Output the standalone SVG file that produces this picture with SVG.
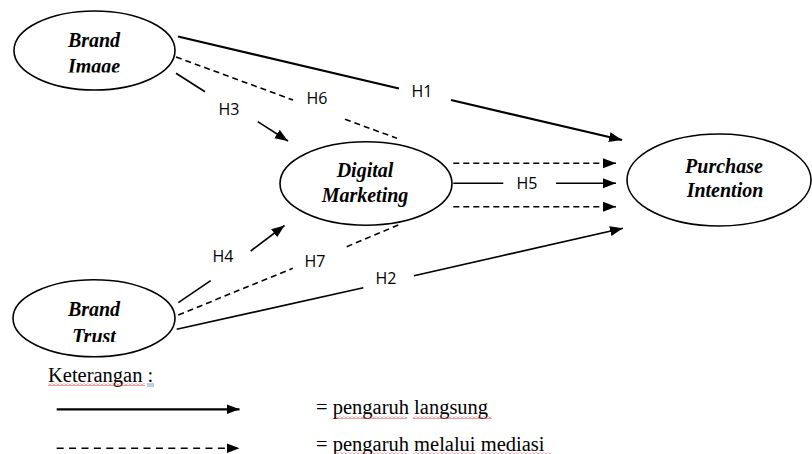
<svg xmlns="http://www.w3.org/2000/svg" width="812" height="454" viewBox="0 0 812 454">
<style>
.node{fill:#fff;stroke:#000;stroke-width:1.6}
.nt{font-family:"Liberation Serif","Times New Roman",serif;font-weight:bold;font-style:italic;font-size:20px;fill:#000;text-anchor:middle}
.lbl{font-family:"Open Sans","Liberation Sans",sans-serif;font-size:16px;fill:#000;text-anchor:middle}
.s{stroke:#000;stroke-width:1.6;fill:none}
.thick{stroke-width:2.2}
.d{stroke:#000;stroke-width:1.6;fill:none;stroke-dasharray:6 4}
.lg{font-family:"Liberation Serif","Times New Roman",serif;font-size:20.5px;fill:#000}
</style>
<defs>
<marker id="ah" markerUnits="userSpaceOnUse" markerWidth="14" markerHeight="11" refX="13" refY="5" orient="auto">
<path d="M0,0 L13,5 L0,10 z" fill="#000"/>
</marker>
<pattern id="wave" patternUnits="userSpaceOnUse" width="4" height="3">
<polyline points="0,2.5 2,0.5 4,2.5" fill="none" stroke="#e53935" stroke-width="1"/>
</pattern>
<clipPath id="clipImg"><rect x="20" y="20" width="150" height="52.5"/></clipPath>
<clipPath id="clipTrust"><rect x="20" y="290" width="150" height="52"/></clipPath>
</defs>

<g id="connectors">
<!-- H1 -->
<line class="s thick" x1="178" y1="36.5" x2="399" y2="88.5"/>
<line class="s thick" x1="451" y1="100" x2="622" y2="140" marker-end="url(#ah)"/>
<text class="lbl" x="422" y="97">H1</text>
<!-- H6 -->
<line class="d" x1="176" y1="57" x2="293" y2="100"/>
<line class="d" x1="345" y1="119.3" x2="397" y2="138.3"/>
<text class="lbl" x="317" y="104">H6</text>
<!-- H3 -->
<line class="s" x1="176" y1="73.3" x2="205" y2="91.7"/>
<line class="s" x1="257.7" y1="121.7" x2="288" y2="141" marker-end="url(#ah)"/>
<text class="lbl" x="229" y="115">H3</text>
<!-- H4 -->
<line class="s" x1="178.3" y1="302.7" x2="210.7" y2="280.7"/>
<line class="s" x1="250.7" y1="251" x2="284.5" y2="225.5" marker-end="url(#ah)"/>
<text class="lbl" x="223" y="262">H4</text>
<!-- H7 -->
<line class="d" x1="178.3" y1="315" x2="292.7" y2="268.3"/>
<line class="d" x1="346.7" y1="246.7" x2="398.3" y2="225"/>
<text class="lbl" x="315" y="267">H7</text>
<!-- H2 -->
<line class="s" x1="176.7" y1="329.3" x2="363.3" y2="287.7"/>
<line class="s" x1="414" y1="275.7" x2="623" y2="228.3" marker-end="url(#ah)"/>
<text class="lbl" x="386" y="284">H2</text>
<!-- H5 -->
<line class="s" x1="453.3" y1="183.3" x2="503.3" y2="183.3"/>
<line class="s" x1="556" y1="183.3" x2="616" y2="183.3" marker-end="url(#ah)"/>
<text class="lbl" x="527" y="188.5">H5</text>
<line class="d" x1="453.3" y1="163.3" x2="616" y2="163.3" marker-end="url(#ah)"/>
<line class="d" x1="453.3" y1="206.7" x2="616" y2="206.7" marker-end="url(#ah)"/>
</g>

<g id="brand-image">
<ellipse class="node" cx="94.5" cy="50.5" rx="80.5" ry="39.5"/>
<g clip-path="url(#clipImg)">
<text class="nt" x="94" y="47">Brand</text>
<text class="nt" x="94" y="73">Image</text>
</g>
</g>

<g id="brand-trust">
<ellipse class="node" cx="94" cy="318.3" rx="81" ry="38.5"/>
<g clip-path="url(#clipTrust)">
<text class="nt" x="94" y="315.5">Brand</text>
<text class="nt" x="94" y="343">Trust</text>
</g>
</g>

<g id="digital-marketing">
<ellipse class="node" cx="366" cy="183.5" rx="86" ry="41.7"/>
<text class="nt" x="365" y="177">Digital</text>
<text class="nt" x="365" y="202">Marketing</text>
</g>

<g id="purchase-intention">
<ellipse class="node" cx="719" cy="180" rx="92" ry="46"/>
<text class="nt" x="724" y="173">Purchase</text>
<text class="nt" x="725" y="197">Intention</text>
</g>

<g id="legend">
<text class="lg" x="48" y="382">Keterangan :</text>
<rect x="48" y="383" width="97" height="3" fill="url(#wave)"/>
<line x1="147" y1="384" x2="154" y2="384" stroke="#5b7fd6" stroke-width="0.8"/>
<line x1="147" y1="386" x2="154" y2="386" stroke="#5b7fd6" stroke-width="0.8"/>
<line class="s thick" x1="56.7" y1="409.3" x2="239.5" y2="409.3" marker-end="url(#ah)"/>
<line class="s" x1="56.7" y1="448.3" x2="239.5" y2="448.3" stroke-dasharray="7 5.4" marker-end="url(#ah)"/>
<text class="lg" x="316" y="414">= pengaruh langsung</text>
<rect x="335" y="416" width="72" height="3" fill="url(#wave)"/>
<rect x="413" y="416" width="79" height="3" fill="url(#wave)"/>
<text class="lg" x="316" y="451">= pengaruh melalui mediasi</text>
<rect x="335" y="452" width="72" height="3" fill="url(#wave)"/>
<rect x="413" y="452" width="63" height="3" fill="url(#wave)"/>
<rect x="481" y="452" width="70" height="3" fill="url(#wave)"/>
</g>
</svg>
